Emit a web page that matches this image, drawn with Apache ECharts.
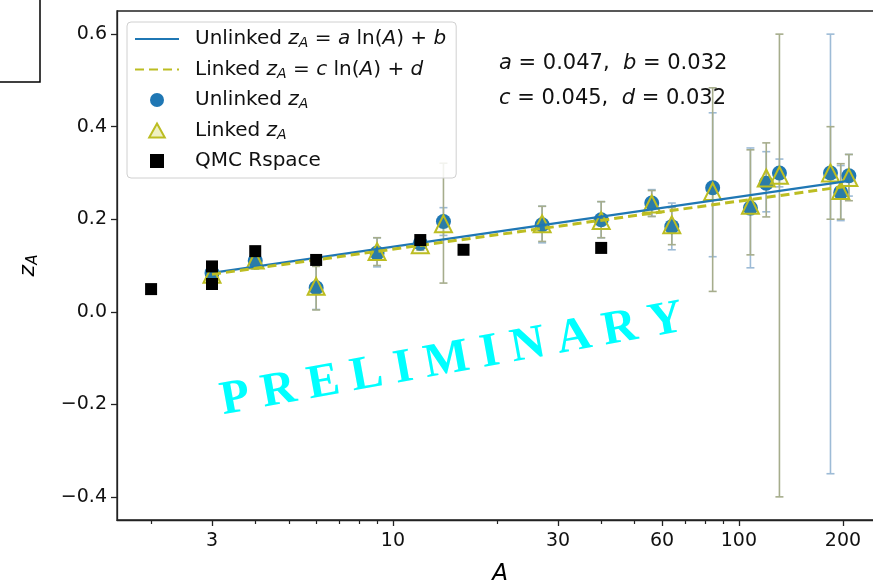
<!DOCTYPE html>
<html><head><meta charset="utf-8">
<script src="https://cdn.jsdelivr.net/npm/echarts@6/dist/echarts.min.js"></script>
<style>html,body{margin:0;padding:0;background:#fff}#c{width:873px;height:584px}</style>
</head><body><div id="c"></div>
<script>
// ---- data ----
const xTickLabels = [3, 10, 30, 60, 100, 200];
const xMinorTicks = [2, 4, 5, 6, 7, 8, 9, 20, 40, 50, 70, 80, 90];
const yTicks = [-0.4, -0.2, 0, 0.2, 0.4, 0.6];

const unlinkedA    = [3, 4, 6, 9, 12, 14, 27, 40, 56, 64, 84, 108, 120, 131, 184, 197, 208];
const unlinkedZ    = [0.084, 0.110, 0.052, 0.127, 0.148, 0.195, 0.188, 0.199, 0.235, 0.184, 0.268, 0.224, 0.278, 0.300, 0.300, 0.258, 0.294];
const unlinkedLow  = [0.069, 0.092, 0.005, 0.097, 0.138, 0.165, 0.149, 0.160, 0.206, 0.134, 0.119, 0.095, 0.216, 0.270, -0.350, 0.197, 0.250];
const unlinkedHigh = [0.099, 0.128, 0.099, 0.160, 0.158, 0.225, 0.228, 0.238, 0.264, 0.235, 0.430, 0.354, 0.346, 0.330, 0.600, 0.316, 0.340];

const linkedA    = [3, 4, 6, 9, 12, 14, 27, 40, 56, 64, 84, 108, 120, 131, 184, 197, 208];
const linkedZ    = [0.081, 0.112, 0.055, 0.130, 0.145, 0.190, 0.190, 0.197, 0.233, 0.188, 0.260, 0.230, 0.289, 0.295, 0.300, 0.262, 0.290];
const linkedLow  = [0.066, 0.094, 0.004, 0.100, 0.133, 0.062, 0.152, 0.160, 0.206, 0.145, 0.044, 0.123, 0.205, -0.400, 0.200, 0.200, 0.240];
const linkedHigh = [0.096, 0.130, 0.098, 0.160, 0.157, 0.321, 0.228, 0.238, 0.262, 0.225, 0.484, 0.350, 0.365, 0.600, 0.400, 0.320, 0.340];

const qmcA = [2, 3, 3, 4, 6, 12, 16, 40];
const qmcZ = [0.049, 0.098, 0.060, 0.131, 0.112, 0.155, 0.134, 0.138];

const unlinkedFitA = [3, 208];
const unlinkedFitZ = [0.084, 0.283];
const linkedFitA = [3, 208];
const linkedFitZ = [0.081, 0.272];

const fitText1 = '{i|a} = 0.047,  {i|b} = 0.032';
const fitText2 = '{i|c} = 0.045,  {i|d} = 0.032';
const watermark = 'P R E L I M I N A R Y';

// ---- chart ----
const FONT = 'DejaVu Sans';
const zip = (xs, ...cols) => xs.map((x, i) => [x, ...cols.map(c => c[i])]);

function errRender(color) {
  return function (params, api) {
    const x = api.value(0), lo = api.value(1), hi = api.value(2);
    const p1 = api.coord([x, hi]), p2 = api.coord([x, lo]);
    const w = 4;
    const st = { stroke: color, lineWidth: 1.6 };
    return { type: 'group', children: [
      { type: 'line', shape: { x1: p1[0], y1: p1[1], x2: p2[0], y2: p2[1] }, style: st },
      { type: 'line', shape: { x1: p1[0] - w, y1: p1[1], x2: p1[0] + w, y2: p1[1] }, style: st },
      { type: 'line', shape: { x1: p2[0] - w, y1: p2[1], x2: p2[0] + w, y2: p2[1] }, style: st }
    ]};
  };
}

const legendNames = {
  'Unlinked fit': 'Unlinked {i|z}{s|A} = {i|a} ln({i|A}) + {i|b}',
  'Linked fit': 'Linked {i|z}{s|A} = {i|c} ln({i|A}) + {i|d}',
  'Unlinked': 'Unlinked {i|z}{s|A}',
  'Linked': 'Linked {i|z}{s|A}',
  'QMC Rspace': 'QMC Rspace'
};
const hideSym = { color: 'rgba(0,0,0,0)', borderWidth: 0, opacity: 0 };

const chart = echarts.init(document.getElementById('c'), null, { renderer: 'canvas' });
const option = {
  animation: false,
  backgroundColor: '#fff',
  textStyle: { fontFamily: FONT },
  grid: { left: 117, top: 11, right: -10, bottom: 64, show: true, borderColor: '#222', borderWidth: 1.3,
    containLabel: false, outerBoundsMode: 'none' },
  xAxis: [{
    type: 'log', logBase: 10, min: 1.594, max: 261,
    name: '{i|A}', nameLocation: 'middle', nameGap: 43,
    nameTextStyle: { rich: { i: { fontStyle: 'italic', fontSize: 23, fontFamily: FONT, color: '#000' } } },
    axisLine: { show: true, onZero: false, lineStyle: { color: '#222', width: 1.3 } },
    axisTick: { show: true, length: 6, lineStyle: { color: '#222', width: 1.3 }, customValues: xTickLabels },
    axisLabel: { show: true, customValues: xTickLabels, margin: 12, fontSize: 19, color: '#111', fontFamily: FONT, formatter: v => String(Math.round(v)) },
    splitLine: { show: false }, minorTick: { show: false }
  }, {
    type: 'log', logBase: 10, min: 1.594, max: 261, position: 'bottom',
    axisLine: { show: false, onZero: false },
    axisTick: { show: true, length: 4, lineStyle: { color: '#222', width: 1.2 }, customValues: xMinorTicks },
    axisLabel: { show: false },
    splitLine: { show: false }
  }],
  yAxis: {
    type: 'value', min: -0.45, max: 0.65,
    name: '{i|z}{s|A}', nameLocation: 'middle', nameGap: 76, nameRotate: 90,
    nameTextStyle: { rich: {
      i: { fontStyle: 'italic', fontSize: 22, fontFamily: FONT, color: '#000' },
      s: { fontStyle: 'italic', fontSize: 15, fontFamily: FONT, color: '#000', padding: [10, 0, 0, 0] }
    } },
    axisLine: { show: true, onZero: false, lineStyle: { color: '#222', width: 1.3 } },
    axisTick: { show: true, length: 6, lineStyle: { color: '#222', width: 1.3 }, customValues: yTicks },
    axisLabel: { show: true, customValues: yTicks, margin: 10, fontSize: 19, color: '#111', fontFamily: FONT,
      formatter: v => (v < -1e-9 ? '\u2212' : '') + Math.abs(v).toFixed(1) },
    splitLine: { show: false }
  },
  legend: {
    orient: 'vertical', left: 127, top: 22,
    data: [
      { name: 'Unlinked fit', itemStyle: hideSym },
      { name: 'Linked fit', itemStyle: hideSym },
      { name: 'Unlinked', icon: 'circle' },
      { name: 'Linked', icon: 'path://M5,0L10,9L0,9Z', itemStyle: { color: 'rgba(220,222,120,0.45)', borderColor: '#bcbd22', borderWidth: 2 } },
      { name: 'QMC Rspace', icon: 'path://M0,0H10V10H0Z' }
    ],
    itemWidth: 44, itemHeight: 14, itemGap: 9, symbolKeepAspect: true,
    padding: [7, 10, 7, 7],
    backgroundColor: 'rgba(255,255,255,0.85)', borderColor: '#d0d0d0', borderWidth: 1, borderRadius: 4,
    formatter: n => legendNames[n],
    textStyle: {
      fontSize: 20, fontFamily: FONT, color: '#111', padding: [0, 0, 0, 11],
      rich: {
        i: { fontStyle: 'italic', fontSize: 20, fontFamily: FONT, color: '#111' },
        s: { fontStyle: 'italic', fontSize: 14, fontFamily: FONT, color: '#111', padding: [9, 0, 0, 0] }
      }
    }
  },
  series: [
    { type: 'custom', name: 'errU', renderItem: errRender('#9dbbd6'), data: zip(unlinkedA, unlinkedLow, unlinkedHigh), encode: { x: 0, y: [1, 2] }, z: 1, silent: true },
    { type: 'custom', name: 'errL', renderItem: errRender('#a6ad8c'), data: zip(linkedA, linkedLow, linkedHigh), encode: { x: 0, y: [1, 2] }, z: 1, silent: true },
    { type: 'scatter', name: 'Unlinked', data: zip(unlinkedA, unlinkedZ), symbol: 'circle', symbolSize: 15,
      itemStyle: { color: '#1f77b4', opacity: 1 }, z: 3 },
    { type: 'scatter', name: 'Linked', data: zip(linkedA, linkedZ), symbol: 'triangle', symbolSize: 17,
      itemStyle: { color: 'rgba(188,189,34,0.08)', borderColor: '#bcbd22', borderWidth: 2, opacity: 1 }, z: 4 },
    { type: 'line', name: 'Unlinked fit', data: zip(unlinkedFitA, unlinkedFitZ), symbol: 'none', showSymbol: false,
      lineStyle: { color: '#1f77b4', width: 2.2 }, itemStyle: { color: '#1f77b4' }, z: 5 },
    { type: 'line', name: 'Linked fit', data: zip(linkedFitA, linkedFitZ), symbol: 'none', showSymbol: false,
      lineStyle: { color: '#bcbd22', width: 3, type: [9, 5] }, itemStyle: { color: '#bcbd22' }, z: 6 },
    { type: 'scatter', name: 'QMC Rspace', data: zip(qmcA, qmcZ), symbol: 'rect', symbolSize: 12,
      itemStyle: { color: '#000', opacity: 1 }, z: 7 }
  ],
  graphic: [
    { type: 'polyline', shape: { points: [[40, 0], [40, 82], [0, 82]] }, style: { stroke: '#000', lineWidth: 1.5, fill: null }, z: 100 },
    { type: 'text', x: 499, y: 64, style: { text: fitText1, fontSize: 21, fontFamily: FONT, fill: '#111', verticalAlign: 'middle',
      rich: { i: { fontStyle: 'italic', fontSize: 21, fontFamily: FONT, fill: '#111' } } }, z: 100 },
    { type: 'text', x: 499, y: 99, style: { text: fitText2, fontSize: 21, fontFamily: FONT, fill: '#111', verticalAlign: 'middle',
      rich: { i: { fontStyle: 'italic', fontSize: 21, fontFamily: FONT, fill: '#111' } } }, z: 100 },
    { type: 'text', x: 452, y: 360, rotation: 0.18, style: { text: watermark, font: 'bold 48px "Liberation Serif"', fill: '#00ffff',
      align: 'center', verticalAlign: 'middle' }, z: 100 }
  ]
};
chart.setOption(option);
</script>
</body></html>
